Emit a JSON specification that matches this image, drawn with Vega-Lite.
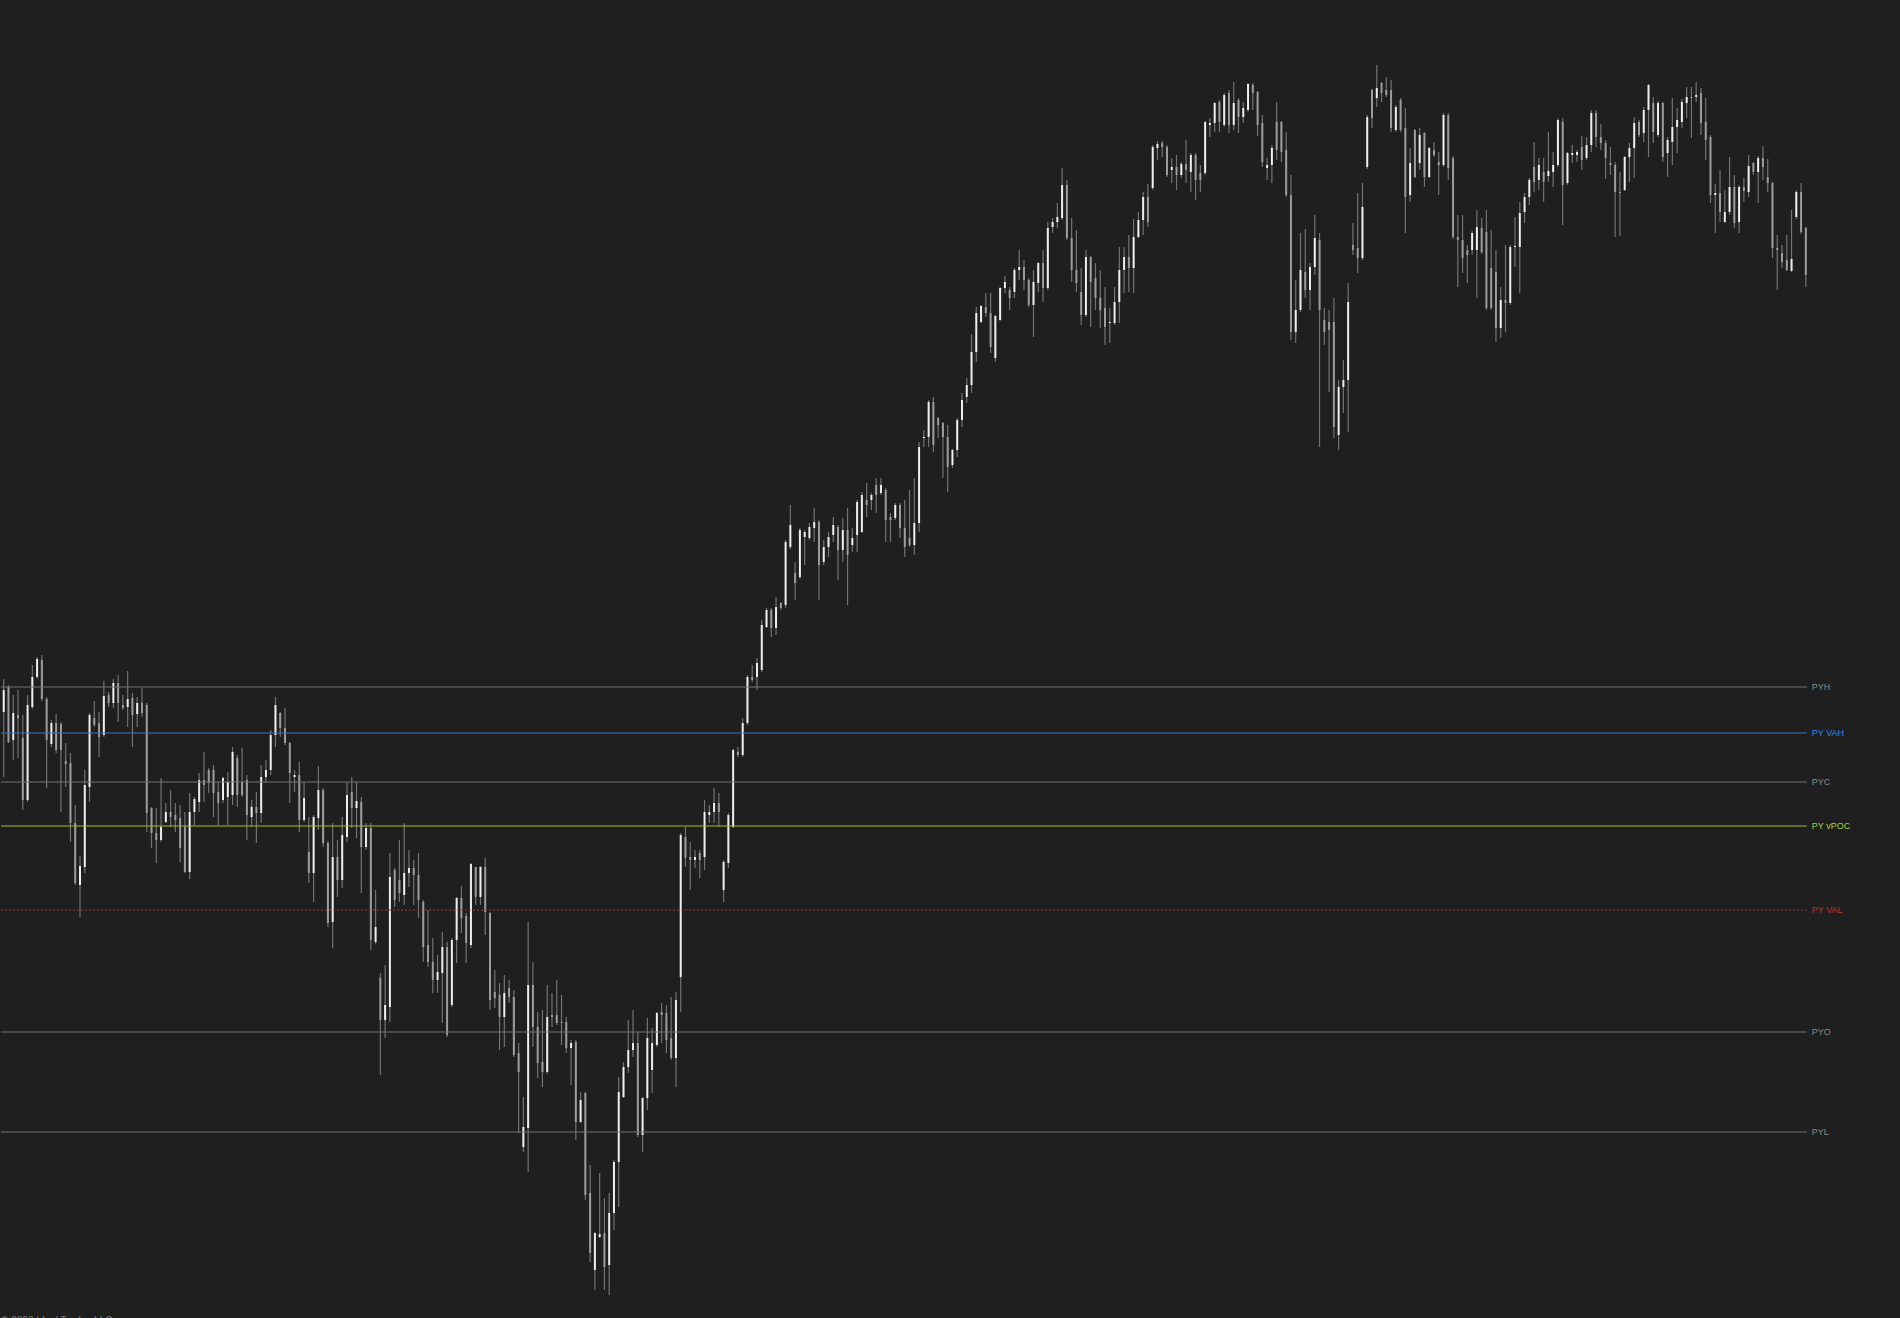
{
"$schema": "https://vega.github.io/schema/vega-lite/v6.json",
"width": 1900,
"height": 1318,
"autosize": {"type": "fit", "contains": "padding"},
"padding": 0,
"background": "#1f1f1f",
"config": {"view": {"stroke": null}},
"datasets": {
"levels": [
{"level": "PYH", "price": 631, "from": -0.57, "to": 378.2},
{"level": "PY VAH", "price": 585, "from": -0.57, "to": 378.2},
{"level": "PYC", "price": 536, "from": -0.57, "to": 378.2},
{"level": "PY vPOC", "price": 492, "from": -0.57, "to": 378.2},
{"level": "PY VAL", "price": 408, "from": -0.57, "to": 378.2},
{"level": "PYO", "price": 286, "from": -0.57, "to": 378.2},
{"level": "PYL", "price": 186, "from": -0.57, "to": 378.2}
],
"notes": [
{"note": "© 2023 Ideal Trades LLC", "day": -0.55, "price": -5.5}
],
"candles": [
{"day":0,"open":606,"high":639,"low":541,"close":628},
{"day":1,"open":631,"high":633,"low":575,"close":576},
{"day":2,"open":578,"high":623,"low":558,"close":605},
{"day":3,"open":603,"high":628,"low":560,"close":600},
{"day":4,"open":580,"high":603,"low":508,"close":518},
{"day":5,"open":518,"high":623,"low":516,"close":613},
{"day":6,"open":611,"high":653,"low":609,"close":641},
{"day":7,"open":641,"high":661,"low":639,"close":659},
{"day":8,"open":658,"high":663,"low":617,"close":619},
{"day":9,"open":619,"high":621,"low":530,"close":578},
{"day":10,"open":574,"high":598,"low":571,"close":595},
{"day":11,"open":595,"high":604,"low":565,"close":568},
{"day":12,"open":594,"high":596,"low":506,"close":568},
{"day":13,"open":557,"high":575,"low":531,"close":554},
{"day":14,"open":555,"high":565,"low":476,"close":495},
{"day":15,"open":495,"high":513,"low":433,"close":435},
{"day":16,"open":433,"high":462,"low":401,"close":452},
{"day":17,"open":451,"high":548,"low":445,"close":533},
{"day":18,"open":531,"high":605,"low":516,"close":603},
{"day":19,"open":600,"high":617,"low":591,"close":593},
{"day":20,"open":595,"high":606,"low":561,"close":581},
{"day":21,"open":583,"high":637,"low":581,"close":622},
{"day":22,"open":623,"high":626,"low":611,"close":615},
{"day":23,"open":615,"high":639,"low":610,"close":635},
{"day":24,"open":635,"high":643,"low":596,"close":615},
{"day":25,"open":613,"high":623,"low":608,"close":610},
{"day":26,"open":611,"high":647,"low":591,"close":619},
{"day":27,"open":620,"high":625,"low":571,"close":603},
{"day":28,"open":604,"high":621,"low":591,"close":615},
{"day":29,"open":615,"high":630,"low":601,"close":605},
{"day":30,"open":613,"high":615,"low":486,"close":505},
{"day":31,"open":510,"high":511,"low":470,"close":485},
{"day":32,"open":485,"high":510,"low":455,"close":478},
{"day":33,"open":478,"high":540,"low":476,"close":491},
{"day":34,"open":496,"high":515,"low":495,"close":506},
{"day":35,"open":506,"high":528,"low":491,"close":501},
{"day":36,"open":503,"high":515,"low":486,"close":498},
{"day":37,"open":500,"high":513,"low":456,"close":470},
{"day":38,"open":491,"high":506,"low":445,"close":446},
{"day":39,"open":446,"high":525,"low":439,"close":506},
{"day":40,"open":506,"high":521,"low":493,"close":519},
{"day":41,"open":516,"high":545,"low":506,"close":538},
{"day":42,"open":538,"high":566,"low":516,"close":533},
{"day":43,"open":548,"high":550,"low":525,"close":535},
{"day":44,"open":548,"high":553,"low":501,"close":525},
{"day":45,"open":526,"high":536,"low":493,"close":515},
{"day":46,"open":518,"high":541,"low":515,"close":540},
{"day":47,"open":521,"high":546,"low":493,"close":536},
{"day":48,"open":523,"high":571,"low":513,"close":566},
{"day":49,"open":560,"high":563,"low":511,"close":523},
{"day":50,"open":536,"high":570,"low":521,"close":523},
{"day":51,"open":538,"high":543,"low":478,"close":503},
{"day":52,"open":501,"high":518,"low":491,"close":511},
{"day":53,"open":511,"high":526,"low":475,"close":505},
{"day":54,"open":505,"high":553,"low":495,"close":541},
{"day":55,"open":541,"high":558,"low":535,"close":548},
{"day":56,"open":548,"high":588,"low":543,"close":583},
{"day":57,"open":583,"high":621,"low":571,"close":613},
{"day":58,"open":605,"high":606,"low":581,"close":590},
{"day":59,"open":590,"high":610,"low":573,"close":575},
{"day":60,"open":575,"high":576,"low":515,"close":545},
{"day":61,"open":541,"high":548,"low":526,"close":543},
{"day":62,"open":543,"high":556,"low":486,"close":498},
{"day":63,"open":498,"high":536,"low":496,"close":520},
{"day":64,"open":466,"high":501,"low":435,"close":445},
{"day":65,"open":445,"high":503,"low":416,"close":501},
{"day":66,"open":500,"high":552,"low":488,"close":528},
{"day":67,"open":528,"high":530,"low":471,"close":475},
{"day":68,"open":475,"high":477,"low":391,"close":395},
{"day":69,"open":396,"high":495,"low":370,"close":461},
{"day":70,"open":461,"high":478,"low":421,"close":438},
{"day":71,"open":438,"high":501,"low":430,"close":483},
{"day":72,"open":481,"high":536,"low":476,"close":523},
{"day":73,"open":526,"high":541,"low":490,"close":510},
{"day":74,"open":510,"high":536,"low":480,"close":517},
{"day":75,"open":516,"high":521,"low":425,"close":471},
{"day":76,"open":471,"high":495,"low":468,"close":490},
{"day":77,"open":490,"high":495,"low":368,"close":378},
{"day":78,"open":376,"high":428,"low":374,"close":391},
{"day":79,"open":340,"high":345,"low":243,"close":298},
{"day":80,"open":298,"high":353,"low":280,"close":313},
{"day":81,"open":311,"high":465,"low":296,"close":441},
{"day":82,"open":448,"high":450,"low":411,"close":418},
{"day":83,"open":438,"high":478,"low":416,"close":425},
{"day":84,"open":423,"high":495,"low":413,"close":445},
{"day":85,"open":445,"high":468,"low":431,"close":450},
{"day":86,"open":450,"high":458,"low":413,"close":443},
{"day":87,"open":443,"high":465,"low":400,"close":418},
{"day":88,"open":416,"high":418,"low":356,"close":371},
{"day":89,"open":373,"high":408,"low":351,"close":356},
{"day":90,"open":356,"high":380,"low":325,"close":338},
{"day":91,"open":338,"high":363,"low":325,"close":346},
{"day":92,"open":345,"high":386,"low":295,"close":371},
{"day":93,"open":371,"high":376,"low":281,"close":283},
{"day":94,"open":313,"high":380,"low":311,"close":378},
{"day":95,"open":378,"high":421,"low":355,"close":420},
{"day":96,"open":420,"high":432,"low":385,"close":400},
{"day":97,"open":402,"high":405,"low":355,"close":375},
{"day":98,"open":373,"high":455,"low":370,"close":454},
{"day":99,"open":451,"high":451,"low":413,"close":421},
{"day":100,"open":421,"high":452,"low":413,"close":451},
{"day":101,"open":451,"high":460,"low":383,"close":406},
{"day":102,"open":405,"high":406,"low":308,"close":318},
{"day":103,"open":326,"high":348,"low":310,"close":320},
{"day":104,"open":323,"high":335,"low":268,"close":301},
{"day":105,"open":301,"high":343,"low":271,"close":325},
{"day":106,"open":330,"high":338,"low":315,"close":321},
{"day":107,"open":321,"high":328,"low":261,"close":263},
{"day":108,"open":265,"high":275,"low":185,"close":246},
{"day":109,"open":171,"high":221,"low":166,"close":191},
{"day":110,"open":190,"high":396,"low":146,"close":333},
{"day":111,"open":333,"high":356,"low":271,"close":291},
{"day":112,"open":291,"high":306,"low":240,"close":255},
{"day":113,"open":256,"high":308,"low":231,"close":246},
{"day":114,"open":246,"high":333,"low":244,"close":301},
{"day":115,"open":303,"high":325,"low":291,"close":301},
{"day":116,"open":303,"high":338,"low":293,"close":295},
{"day":117,"open":296,"high":323,"low":273,"close":295},
{"day":118,"open":296,"high":301,"low":265,"close":270},
{"day":119,"open":270,"high":278,"low":233,"close":275},
{"day":120,"open":276,"high":278,"low":178,"close":196},
{"day":121,"open":196,"high":226,"low":195,"close":218},
{"day":122,"open":225,"high":226,"low":118,"close":123},
{"day":123,"open":125,"high":153,"low":56,"close":65},
{"day":124,"open":48,"high":86,"low":28,"close":85},
{"day":125,"open":81,"high":145,"low":80,"close":84},
{"day":126,"open":85,"high":120,"low":28,"close":51},
{"day":127,"open":53,"high":125,"low":23,"close":105},
{"day":128,"open":105,"high":158,"low":88,"close":156},
{"day":129,"open":156,"high":241,"low":111,"close":226},
{"day":130,"open":221,"high":256,"low":220,"close":251},
{"day":131,"open":251,"high":298,"low":245,"close":268},
{"day":132,"open":268,"high":308,"low":261,"close":275},
{"day":133,"open":275,"high":286,"low":181,"close":183},
{"day":134,"open":183,"high":221,"low":166,"close":220},
{"day":135,"open":220,"high":300,"low":208,"close":280},
{"day":136,"open":248,"high":290,"low":225,"close":275},
{"day":137,"open":273,"high":306,"low":271,"close":305},
{"day":138,"open":306,"high":315,"low":275,"close":303},
{"day":139,"open":305,"high":313,"low":265,"close":278},
{"day":140,"open":280,"high":321,"low":258,"close":260},
{"day":141,"open":260,"high":326,"low":231,"close":318},
{"day":142,"open":341,"high":485,"low":306,"close":483},
{"day":143,"open":481,"high":491,"low":451,"close":460},
{"day":144,"open":461,"high":476,"low":428,"close":458},
{"day":145,"open":458,"high":468,"low":450,"close":461},
{"day":146,"open":465,"high":468,"low":440,"close":458},
{"day":147,"open":461,"high":518,"low":448,"close":506},
{"day":148,"open":503,"high":513,"low":495,"close":506},
{"day":149,"open":506,"high":530,"low":495,"close":515},
{"day":150,"open":515,"high":525,"low":491,"close":506},
{"day":151,"open":428,"high":458,"low":416,"close":456},
{"day":152,"open":455,"high":505,"low":450,"close":503},
{"day":153,"open":491,"high":569,"low":490,"close":568},
{"day":154,"open":566,"high":571,"low":561,"close":563},
{"day":155,"open":563,"high":600,"low":561,"close":595},
{"day":156,"open":595,"high":643,"low":593,"close":641},
{"day":157,"open":641,"high":653,"low":636,"close":638},
{"day":158,"open":641,"high":660,"low":628,"close":655},
{"day":159,"open":648,"high":698,"low":646,"close":693},
{"day":160,"open":691,"high":710,"low":690,"close":708},
{"day":161,"open":708,"high":710,"low":681,"close":690},
{"day":162,"open":690,"high":721,"low":683,"close":711},
{"day":163,"open":715,"high":716,"low":708,"close":710},
{"day":164,"open":713,"high":778,"low":710,"close":776},
{"day":165,"open":771,"high":813,"low":769,"close":793},
{"day":166,"open":745,"high":756,"low":718,"close":735},
{"day":167,"open":741,"high":790,"low":739,"close":788},
{"day":168,"open":781,"high":788,"low":753,"close":786},
{"day":169,"open":780,"high":795,"low":778,"close":791},
{"day":170,"open":790,"high":810,"low":776,"close":796},
{"day":171,"open":796,"high":798,"low":718,"close":753},
{"day":172,"open":756,"high":778,"low":753,"close":771},
{"day":173,"open":771,"high":786,"low":761,"close":781},
{"day":174,"open":783,"high":801,"low":776,"close":793},
{"day":175,"open":791,"high":793,"low":738,"close":768},
{"day":176,"open":768,"high":800,"low":756,"close":788},
{"day":177,"open":788,"high":810,"low":713,"close":763},
{"day":178,"open":773,"high":790,"low":766,"close":780},
{"day":179,"open":783,"high":818,"low":766,"close":816},
{"day":180,"open":786,"high":826,"low":785,"close":823},
{"day":181,"open":818,"high":835,"low":801,"close":813},
{"day":182,"open":818,"high":825,"low":808,"close":823},
{"day":183,"open":833,"high":840,"low":805,"close":823},
{"day":184,"open":825,"high":840,"low":823,"close":833},
{"day":185,"open":828,"high":830,"low":776,"close":798},
{"day":186,"open":801,"high":805,"low":776,"close":798},
{"day":187,"open":800,"high":815,"low":798,"close":813},
{"day":188,"open":813,"high":815,"low":780,"close":790},
{"day":189,"open":790,"high":818,"low":761,"close":771},
{"day":190,"open":780,"high":828,"low":771,"close":773},
{"day":191,"open":773,"high":840,"low":763,"close":795},
{"day":192,"open":795,"high":876,"low":786,"close":871},
{"day":193,"open":880,"high":888,"low":871,"close":881},
{"day":194,"open":881,"high":918,"low":871,"close":916},
{"day":195,"open":916,"high":921,"low":866,"close":873},
{"day":196,"open":900,"high":901,"low":880,"close":893},
{"day":197,"open":895,"high":896,"low":840,"close":881},
{"day":198,"open":881,"high":893,"low":826,"close":851},
{"day":199,"open":853,"high":869,"low":850,"close":868},
{"day":200,"open":868,"high":900,"low":861,"close":898},
{"day":201,"open":898,"high":925,"low":891,"close":918},
{"day":202,"open":921,"high":940,"low":915,"close":933},
{"day":203,"open":933,"high":984,"low":925,"close":966},
{"day":204,"open":966,"high":1011,"low":956,"close":1005},
{"day":205,"open":996,"high":1013,"low":995,"close":1012},
{"day":206,"open":1011,"high":1025,"low":1001,"close":1005},
{"day":207,"open":1005,"high":1025,"low":965,"close":971},
{"day":208,"open":960,"high":1003,"low":956,"close":1002},
{"day":209,"open":998,"high":1031,"low":997,"close":1030},
{"day":210,"open":1030,"high":1042,"low":1025,"close":1036},
{"day":211,"open":1028,"high":1031,"low":1008,"close":1020},
{"day":212,"open":1026,"high":1050,"low":1020,"close":1048},
{"day":213,"open":1048,"high":1068,"low":1038,"close":1051},
{"day":214,"open":1051,"high":1058,"low":1028,"close":1038},
{"day":215,"open":1038,"high":1040,"low":1011,"close":1013},
{"day":216,"open":1013,"high":1048,"low":981,"close":1036},
{"day":217,"open":1035,"high":1056,"low":1026,"close":1055},
{"day":218,"open":1055,"high":1068,"low":1016,"close":1030},
{"day":219,"open":1030,"high":1096,"low":1028,"close":1090},
{"day":220,"open":1091,"high":1100,"low":1085,"close":1096},
{"day":221,"open":1096,"high":1115,"low":1090,"close":1101},
{"day":222,"open":1100,"high":1150,"low":1098,"close":1133},
{"day":223,"open":1133,"high":1138,"low":1078,"close":1080},
{"day":224,"open":1080,"high":1100,"low":1036,"close":1048},
{"day":225,"open":1048,"high":1088,"low":1026,"close":1035},
{"day":226,"open":1026,"high":1050,"low":993,"close":1003},
{"day":227,"open":1003,"high":1068,"low":1001,"close":1061},
{"day":228,"open":1061,"high":1062,"low":991,"close":1036},
{"day":229,"open":1040,"high":1055,"low":1008,"close":1020},
{"day":230,"open":1020,"high":1048,"low":990,"close":1008},
{"day":231,"open":1010,"high":1031,"low":973,"close":991},
{"day":232,"open":995,"high":1010,"low":975,"close":996},
{"day":233,"open":995,"high":1031,"low":993,"close":1016},
{"day":234,"open":1016,"high":1071,"low":995,"close":1048},
{"day":235,"open":1048,"high":1071,"low":1025,"close":1061},
{"day":236,"open":1061,"high":1083,"low":1026,"close":1050},
{"day":237,"open":1050,"high":1099,"low":1025,"close":1081},
{"day":238,"open":1081,"high":1106,"low":1080,"close":1098},
{"day":239,"open":1098,"high":1126,"low":1083,"close":1121},
{"day":240,"open":1121,"high":1134,"low":1091,"close":1096},
{"day":241,"open":1130,"high":1173,"low":1128,"close":1171},
{"day":242,"open":1170,"high":1177,"low":1158,"close":1174},
{"day":243,"open":1175,"high":1177,"low":1161,"close":1171},
{"day":244,"open":1171,"high":1173,"low":1141,"close":1143},
{"day":245,"open":1148,"high":1160,"low":1135,"close":1151},
{"day":246,"open":1151,"high":1163,"low":1128,"close":1143},
{"day":247,"open":1143,"high":1156,"low":1140,"close":1154},
{"day":248,"open":1154,"high":1178,"low":1135,"close":1148},
{"day":249,"open":1146,"high":1165,"low":1126,"close":1163},
{"day":250,"open":1163,"high":1165,"low":1118,"close":1138},
{"day":251,"open":1145,"high":1153,"low":1126,"close":1138},
{"day":252,"open":1145,"high":1197,"low":1143,"close":1196},
{"day":253,"open":1193,"high":1200,"low":1181,"close":1195},
{"day":254,"open":1195,"high":1216,"low":1186,"close":1215},
{"day":255,"open":1216,"high":1218,"low":1186,"close":1196},
{"day":256,"open":1193,"high":1225,"low":1191,"close":1223},
{"day":257,"open":1225,"high":1228,"low":1185,"close":1193},
{"day":258,"open":1193,"high":1236,"low":1188,"close":1215},
{"day":259,"open":1218,"high":1220,"low":1185,"close":1201},
{"day":260,"open":1201,"high":1216,"low":1195,"close":1210},
{"day":261,"open":1208,"high":1235,"low":1206,"close":1234},
{"day":262,"open":1233,"high":1235,"low":1208,"close":1225},
{"day":263,"open":1226,"high":1227,"low":1182,"close":1193},
{"day":264,"open":1195,"high":1203,"low":1151,"close":1156},
{"day":265,"open":1150,"high":1160,"low":1138,"close":1153},
{"day":266,"open":1153,"high":1173,"low":1135,"close":1170},
{"day":267,"open":1196,"high":1216,"low":1158,"close":1168},
{"day":268,"open":1196,"high":1197,"low":1156,"close":1166},
{"day":269,"open":1168,"high":1186,"low":1121,"close":1123},
{"day":270,"open":1123,"high":1143,"low":978,"close":986},
{"day":271,"open":986,"high":1038,"low":975,"close":1008},
{"day":272,"open":1008,"high":1085,"low":1006,"close":1048},
{"day":273,"open":1046,"high":1089,"low":1020,"close":1028},
{"day":274,"open":1028,"high":1055,"low":1008,"close":1051},
{"day":275,"open":1051,"high":1103,"low":1043,"close":1080},
{"day":276,"open":1078,"high":1085,"low":871,"close":1008},
{"day":277,"open":998,"high":1010,"low":973,"close":986},
{"day":278,"open":996,"high":1008,"low":926,"close":988},
{"day":279,"open":996,"high":1020,"low":880,"close":891},
{"day":280,"open":883,"high":938,"low":868,"close":931},
{"day":281,"open":931,"high":958,"low":905,"close":938},
{"day":282,"open":938,"high":1035,"low":886,"close":1016},
{"day":283,"open":1073,"high":1095,"low":1063,"close":1068},
{"day":284,"open":1070,"high":1125,"low":1045,"close":1060},
{"day":285,"open":1060,"high":1135,"low":1058,"close":1111},
{"day":286,"open":1151,"high":1203,"low":1149,"close":1201},
{"day":287,"open":1228,"high":1229,"low":1190,"close":1200},
{"day":288,"open":1220,"high":1253,"low":1211,"close":1230},
{"day":289,"open":1235,"high":1236,"low":1216,"close":1225},
{"day":290,"open":1228,"high":1241,"low":1221,"close":1223},
{"day":291,"open":1228,"high":1238,"low":1186,"close":1190},
{"day":292,"open":1188,"high":1213,"low":1186,"close":1211},
{"day":293,"open":1218,"high":1220,"low":1186,"close":1188},
{"day":294,"open":1190,"high":1210,"low":1085,"close":1121},
{"day":295,"open":1123,"high":1170,"low":1116,"close":1155},
{"day":296,"open":1188,"high":1189,"low":1140,"close":1141},
{"day":297,"open":1155,"high":1190,"low":1148,"close":1183},
{"day":298,"open":1185,"high":1186,"low":1131,"close":1141},
{"day":299,"open":1141,"high":1171,"low":1140,"close":1170},
{"day":300,"open":1168,"high":1176,"low":1161,"close":1163},
{"day":301,"open":1156,"high":1166,"low":1123,"close":1153},
{"day":302,"open":1153,"high":1205,"low":1151,"close":1203},
{"day":303,"open":1203,"high":1205,"low":1138,"close":1150},
{"day":304,"open":1160,"high":1162,"low":1079,"close":1081},
{"day":305,"open":1081,"high":1103,"low":1031,"close":1078},
{"day":306,"open":1078,"high":1103,"low":1045,"close":1060},
{"day":307,"open":1068,"high":1073,"low":1035,"close":1063},
{"day":308,"open":1068,"high":1087,"low":1063,"close":1085},
{"day":309,"open":1068,"high":1108,"low":1020,"close":1091},
{"day":310,"open":1090,"high":1100,"low":1064,"close":1066},
{"day":311,"open":1086,"high":1108,"low":1008,"close":1010},
{"day":312,"open":1050,"high":1088,"low":1008,"close":1010},
{"day":313,"open":1046,"high":1068,"low":976,"close":990},
{"day":314,"open":990,"high":1031,"low":980,"close":1018},
{"day":315,"open":1018,"high":1073,"low":986,"close":1015},
{"day":316,"open":1015,"high":1073,"low":1013,"close":1071},
{"day":317,"open":1071,"high":1101,"low":1051,"close":1072},
{"day":318,"open":1071,"high":1116,"low":1025,"close":1105},
{"day":319,"open":1106,"high":1125,"low":1095,"close":1121},
{"day":320,"open":1121,"high":1140,"low":1113,"close":1138},
{"day":321,"open":1151,"high":1176,"low":1126,"close":1136},
{"day":322,"open":1138,"high":1160,"low":1128,"close":1153},
{"day":323,"open":1146,"high":1160,"low":1116,"close":1136},
{"day":324,"open":1142,"high":1186,"low":1136,"close":1147},
{"day":325,"open":1146,"high":1166,"low":1131,"close":1153},
{"day":326,"open":1153,"high":1200,"low":1151,"close":1198},
{"day":327,"open":1196,"high":1200,"low":1093,"close":1133},
{"day":328,"open":1135,"high":1166,"low":1133,"close":1165},
{"day":329,"open":1163,"high":1173,"low":1155,"close":1165},
{"day":330,"open":1163,"high":1168,"low":1156,"close":1166},
{"day":331,"open":1171,"high":1182,"low":1148,"close":1158},
{"day":332,"open":1160,"high":1181,"low":1158,"close":1173},
{"day":333,"open":1173,"high":1208,"low":1166,"close":1205},
{"day":334,"open":1205,"high":1208,"low":1171,"close":1181},
{"day":335,"open":1181,"high":1194,"low":1168,"close":1175},
{"day":336,"open":1175,"high":1178,"low":1139,"close":1160},
{"day":337,"open":1155,"high":1171,"low":1143,"close":1153},
{"day":338,"open":1153,"high":1156,"low":1081,"close":1126},
{"day":339,"open":1126,"high":1146,"low":1082,"close":1125},
{"day":340,"open":1128,"high":1162,"low":1127,"close":1161},
{"day":341,"open":1161,"high":1175,"low":1136,"close":1170},
{"day":342,"open":1170,"high":1201,"low":1140,"close":1195},
{"day":343,"open":1196,"high":1198,"low":1181,"close":1183},
{"day":344,"open":1185,"high":1211,"low":1176,"close":1208},
{"day":345,"open":1208,"high":1234,"low":1161,"close":1233},
{"day":346,"open":1215,"high":1221,"low":1175,"close":1186},
{"day":347,"open":1183,"high":1217,"low":1181,"close":1215},
{"day":348,"open":1215,"high":1216,"low":1156,"close":1161},
{"day":349,"open":1165,"high":1181,"low":1141,"close":1178},
{"day":350,"open":1176,"high":1220,"low":1153,"close":1191},
{"day":351,"open":1191,"high":1210,"low":1165,"close":1198},
{"day":352,"open":1196,"high":1219,"low":1190,"close":1216},
{"day":353,"open":1215,"high":1231,"low":1200,"close":1221},
{"day":354,"open":1221,"high":1231,"low":1180,"close":1220},
{"day":355,"open":1221,"high":1236,"low":1216,"close":1223},
{"day":356,"open":1225,"high":1230,"low":1183,"close":1195},
{"day":357,"open":1196,"high":1220,"low":1158,"close":1178},
{"day":358,"open":1181,"high":1183,"low":1115,"close":1123},
{"day":359,"open":1123,"high":1134,"low":1085,"close":1125},
{"day":360,"open":1125,"high":1148,"low":1096,"close":1106},
{"day":361,"open":1096,"high":1128,"low":1095,"close":1106},
{"day":362,"open":1106,"high":1161,"low":1103,"close":1131},
{"day":363,"open":1131,"high":1143,"low":1090,"close":1095},
{"day":364,"open":1096,"high":1133,"low":1085,"close":1131},
{"day":365,"open":1131,"high":1140,"low":1116,"close":1127},
{"day":366,"open":1126,"high":1163,"low":1121,"close":1152},
{"day":367,"open":1155,"high":1156,"low":1143,"close":1146},
{"day":368,"open":1146,"high":1162,"low":1115,"close":1160},
{"day":369,"open":1160,"high":1172,"low":1138,"close":1151},
{"day":370,"open":1141,"high":1159,"low":1126,"close":1135},
{"day":371,"open":1135,"high":1136,"low":1060,"close":1070},
{"day":372,"open":1070,"high":1083,"low":1028,"close":1068},
{"day":373,"open":1065,"high":1073,"low":1050,"close":1056},
{"day":374,"open":1058,"high":1083,"low":1047,"close":1048},
{"day":375,"open":1047,"high":1108,"low":1046,"close":1059},
{"day":376,"open":1101,"high":1128,"low":1099,"close":1126},
{"day":377,"open":1126,"high":1135,"low":1084,"close":1086},
{"day":378,"open":1090,"high":1091,"low":1031,"close":1043}
]
},
"layer": [
{
"data": {"name": "candles"},
"mark": {"type": "rule", "color": "#737373", "strokeWidth": 1.2},
"encoding": {
"x": {"field": "day", "type": "quantitative", "scale": {"domain": [-0.57, 397.75], "nice": false, "zero": false, "padding": 0}, "axis": null},
"y": {"field": "low", "type": "quantitative", "scale": {"domain": [0, 1318], "nice": false, "zero": false, "padding": 0}, "axis": null},
"y2": {"field": "high"}
}
},
{
"data": {"name": "candles"},
"mark": {"type": "bar", "size": 2},
"encoding": {
"x": {"field": "day", "type": "quantitative", "scale": {"domain": [-0.57, 397.75], "nice": false, "zero": false, "padding": 0}, "axis": null},
"y": {"field": "open", "type": "quantitative", "scale": {"domain": [0, 1318], "nice": false, "zero": false, "padding": 0}, "axis": null},
"y2": {"field": "close"},
"color": {"condition": {"test": "datum.close >= datum.open", "value": "#eeeeee"}, "value": "#9c9c9c"}
}
},
{
"data": {"name": "levels"},
"mark": {"type": "rule", "strokeWidth": 1},
"encoding": {
"x": {"field": "from", "type": "quantitative", "scale": {"domain": [-0.57, 397.75], "nice": false, "zero": false, "padding": 0}, "axis": null},
"x2": {"field": "to"},
"y": {"field": "price", "type": "quantitative", "scale": {"domain": [0, 1318], "nice": false, "zero": false, "padding": 0}, "axis": null},
"color": {"field": "level", "type": "nominal", "legend": null, "scale": {"domain": ["PYH", "PY VAH", "PYC", "PY vPOC", "PY VAL", "PYO", "PYL"], "range": ["#737373", "#3579c4", "#737373", "#9dbb45", "#a53b2e", "#737373", "#737373"]}},
"strokeDash": {"condition": {"test": "datum.level === 'PY VAL'", "value": [2, 2]}, "value": [1, 0]}
}
},
{
"data": {"name": "levels"},
"mark": {"type": "text", "align": "left", "baseline": "middle", "dx": 5, "fontSize": 9, "font": "Liberation Sans"},
"encoding": {
"x": {"field": "to", "type": "quantitative", "scale": {"domain": [-0.57, 397.75], "nice": false, "zero": false, "padding": 0}, "axis": null},
"y": {"field": "price", "type": "quantitative", "scale": {"domain": [0, 1318], "nice": false, "zero": false, "padding": 0}, "axis": null},
"text": {"field": "level"},
"color": {"field": "level", "type": "nominal", "legend": null, "scale": {"domain": ["PYH", "PY VAH", "PYC", "PY vPOC", "PY VAL", "PYO", "PYL"], "range": ["#8a8a8a", "#2f8ae0", "#8a8a8a", "#a4d23c", "#c9302c", "#8a8a8a", "#8a8a8a"]}}
}
},
{
"data": {"name": "notes"},
"mark": {"type": "text", "align": "left", "baseline": "alphabetic", "fontSize": 10, "color": "#7a7a7a", "clip": true, "font": "Liberation Sans"},
"encoding": {
"x": {"field": "day", "type": "quantitative", "scale": {"domain": [-0.57, 397.75], "nice": false, "zero": false, "padding": 0}, "axis": null},
"y": {"field": "price", "type": "quantitative", "scale": {"domain": [0, 1318], "nice": false, "zero": false, "padding": 0}, "axis": null},
"text": {"field": "note"}
}
}
],
"resolve": {"scale": {"color": "independent"}}
}
